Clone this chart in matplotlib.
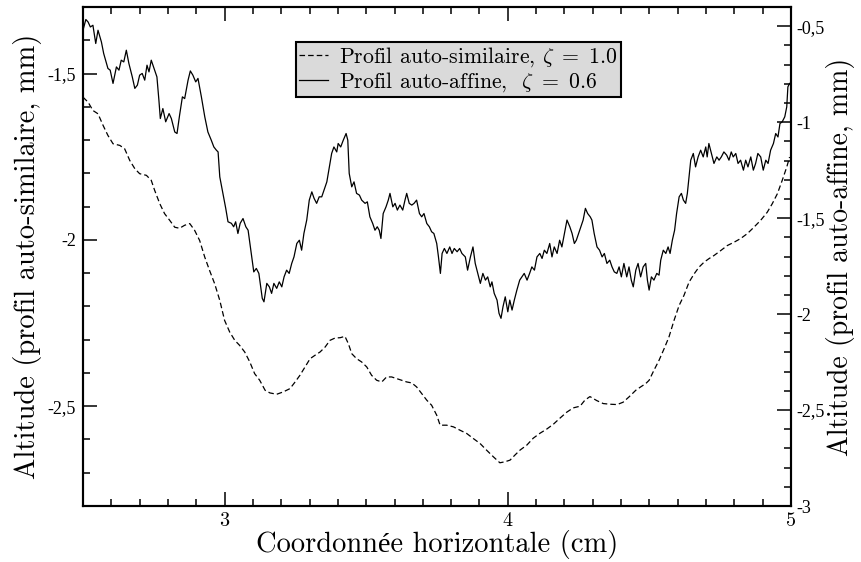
import numpy as np
import matplotlib
matplotlib.use('Agg')
import matplotlib.pyplot as plt
from matplotlib.ticker import MultipleLocator, FuncFormatter

# auto-affine profile (right axis)
x_aff = [2.500, 2.510, 2.518, 2.526, 2.535, 2.545, 2.553, 2.565, 2.573, 2.588,
         2.596, 2.606, 2.618, 2.627, 2.635, 2.644, 2.653, 2.662, 2.674, 2.683,
         2.692, 2.700, 2.709, 2.718, 2.726, 2.733, 2.741, 2.753, 2.761, 2.768,
         2.773, 2.782, 2.792, 2.804, 2.812, 2.824, 2.832, 2.841, 2.851, 2.859,
         2.871, 2.879, 2.888, 2.898, 2.906, 2.918, 2.930, 2.941, 2.953, 2.962,
         2.971, 2.977, 2.983, 2.992, 3.004, 3.012, 3.024, 3.032, 3.039, 3.047,
         3.055, 3.065, 3.075, 3.083, 3.091, 3.103, 3.112, 3.121, 3.133, 3.139,
         3.149, 3.158, 3.166, 3.174, 3.184, 3.193, 3.202, 3.210, 3.219, 3.228,
         3.237, 3.245, 3.255, 3.264, 3.272, 3.280, 3.290, 3.299, 3.308, 3.316,
         3.325, 3.334, 3.343, 3.351, 3.361, 3.370, 3.378, 3.386, 3.396, 3.401,
         3.410, 3.419, 3.429, 3.435, 3.440, 3.449, 3.457, 3.466, 3.476, 3.484,
         3.496, 3.504, 3.513, 3.523, 3.531, 3.539, 3.546, 3.552, 3.560, 3.570,
         3.578, 3.584, 3.594, 3.602, 3.610, 3.619, 3.629, 3.637, 3.643, 3.652,
         3.661, 3.669, 3.678, 3.688, 3.696, 3.704, 3.714, 3.723, 3.731, 3.739,
         3.749, 3.755, 3.762, 3.768, 3.776, 3.785, 3.795, 3.803, 3.811, 3.821,
         3.830, 3.838, 3.850, 3.858, 3.868, 3.877, 3.885, 3.894, 3.903, 3.912,
         3.921, 3.929, 3.938, 3.944, 3.952, 3.962, 3.969, 3.976, 3.983, 3.991,
         4.000, 4.007, 4.015, 4.023, 4.032, 4.042, 4.050, 4.058, 4.068, 4.077,
         4.085, 4.094, 4.103, 4.113, 4.121, 4.129, 4.138, 4.148, 4.156, 4.164,
         4.174, 4.183, 4.191, 4.200, 4.209, 4.219, 4.227, 4.235, 4.242, 4.250,
         4.258, 4.266, 4.274, 4.282, 4.291, 4.297, 4.305, 4.315, 4.324, 4.333,
         4.341, 4.350, 4.360, 4.368, 4.376, 4.385, 4.393, 4.401, 4.410, 4.420,
         4.428, 4.436, 4.443, 4.452, 4.460, 4.469, 4.478, 4.487, 4.493, 4.499,
         4.507, 4.516, 4.526, 4.534, 4.540, 4.549, 4.558, 4.566, 4.573, 4.581,
         4.589, 4.596, 4.605, 4.613, 4.620, 4.628, 4.634, 4.640, 4.646, 4.655,
         4.663, 4.672, 4.681, 4.690, 4.699, 4.704, 4.710, 4.719, 4.728, 4.738,
         4.746, 4.754, 4.763, 4.773, 4.781, 4.789, 4.796, 4.805, 4.813, 4.822,
         4.832, 4.840, 4.848, 4.858, 4.867, 4.875, 4.883, 4.893, 4.902, 4.911,
         4.919, 4.928, 4.938, 4.946, 4.954, 4.961, 4.969, 4.978, 4.985, 4.989,
         4.995]
y_aff = [-0.521, -0.465, -0.478, -0.504, -0.495, -0.590, -0.521, -0.582, -0.642, -0.720,
         -0.729, -0.798, -0.712, -0.729, -0.677, -0.686, -0.625, -0.694, -0.764, -0.824,
         -0.807, -0.755, -0.746, -0.781, -0.703, -0.738, -0.677, -0.729, -0.764, -0.885,
         -0.981, -0.929, -0.998, -0.955, -0.981, -1.051, -1.059, -0.964, -0.868, -0.877,
         -0.781, -0.733, -0.755, -0.790, -0.772, -0.868, -0.972, -1.051, -1.094, -1.129,
         -1.146, -1.155, -1.285, -1.354, -1.449, -1.519, -1.527, -1.545, -1.519, -1.580,
         -1.527, -1.502, -1.545, -1.563, -1.649, -1.780, -1.762, -1.788, -1.918, -1.936,
         -1.840, -1.858, -1.892, -1.840, -1.866, -1.832, -1.858, -1.806, -1.771, -1.788,
         -1.736, -1.702, -1.632, -1.615, -1.667, -1.580, -1.510, -1.406, -1.363, -1.397,
         -1.423, -1.389, -1.389, -1.354, -1.311, -1.233, -1.163, -1.129, -1.155, -1.111,
         -1.129, -1.094, -1.059, -1.094, -1.267, -1.337, -1.311, -1.371, -1.380, -1.406,
         -1.423, -1.415, -1.493, -1.528, -1.563, -1.545, -1.563, -1.606, -1.476, -1.441,
         -1.406, -1.371, -1.441, -1.423, -1.458, -1.432, -1.458, -1.406, -1.371, -1.423,
         -1.432, -1.423, -1.406, -1.476, -1.493, -1.476, -1.528, -1.545, -1.571, -1.580,
         -1.632, -1.700, -1.788, -1.684, -1.658, -1.684, -1.650, -1.684, -1.658, -1.675,
         -1.658, -1.684, -1.702, -1.771, -1.702, -1.650, -1.736, -1.788, -1.840, -1.788,
         -1.823, -1.806, -1.858, -1.832, -1.892, -1.927, -1.996, -2.022, -1.962, -1.910,
         -1.988, -1.927, -1.979, -1.927, -1.875, -1.823, -1.806, -1.788, -1.823, -1.788,
         -1.754, -1.771, -1.702, -1.684, -1.710, -1.667, -1.684, -1.632, -1.702, -1.650,
         -1.684, -1.615, -1.650, -1.580, -1.510, -1.545, -1.580, -1.632, -1.615, -1.580,
         -1.545, -1.510, -1.449, -1.476, -1.493, -1.510, -1.580, -1.650, -1.667, -1.702,
         -1.684, -1.736, -1.719, -1.754, -1.780, -1.788, -1.754, -1.806, -1.736, -1.806,
         -1.754, -1.823, -1.858, -1.771, -1.736, -1.806, -1.754, -1.736, -1.823, -1.875,
         -1.806, -1.823, -1.788, -1.797, -1.719, -1.667, -1.684, -1.650, -1.684, -1.615,
         -1.563, -1.476, -1.389, -1.371, -1.406, -1.423, -1.371, -1.285, -1.198, -1.163,
         -1.233, -1.181, -1.146, -1.181, -1.129, -1.181, -1.111, -1.163, -1.215, -1.181,
         -1.198, -1.181, -1.155, -1.172, -1.198, -1.155, -1.181, -1.163, -1.215, -1.198,
         -1.250, -1.198, -1.233, -1.181, -1.250, -1.215, -1.163, -1.181, -1.250, -1.198,
         -1.215, -1.146, -1.111, -1.059, -1.077, -1.007, -0.998, -0.972, -0.920, -0.816,
         -0.798]

# auto-similar profile (left axis)
x_sim = [2.500, 2.518, 2.535, 2.553, 2.571, 2.588, 2.606, 2.630, 2.647, 2.665,
         2.683, 2.700, 2.724, 2.741, 2.753, 2.771, 2.788, 2.806, 2.824, 2.841,
         2.859, 2.877, 2.894, 2.912, 2.930, 2.947, 2.965, 2.983, 3.000, 3.018,
         3.036, 3.053, 3.071, 3.089, 3.106, 3.124, 3.143, 3.160, 3.184, 3.207,
         3.231, 3.249, 3.266, 3.284, 3.302, 3.319, 3.337, 3.355, 3.372, 3.390,
         3.408, 3.425, 3.437, 3.449, 3.466, 3.484, 3.502, 3.519, 3.537, 3.555,
         3.572, 3.590, 3.608, 3.625, 3.643, 3.661, 3.678, 3.696, 3.714, 3.731,
         3.749, 3.761, 3.784, 3.808, 3.831, 3.855, 3.878, 3.902, 3.925, 3.949,
         3.972, 3.990, 4.008, 4.025, 4.043, 4.067, 4.090, 4.114, 4.137, 4.161,
         4.184, 4.208, 4.231, 4.255, 4.272, 4.290, 4.314, 4.337, 4.361, 4.386,
         4.407, 4.428, 4.452, 4.469, 4.487, 4.499, 4.516, 4.534, 4.552, 4.569,
         4.587, 4.605, 4.622, 4.640, 4.658, 4.675, 4.693, 4.711, 4.728, 4.752,
         4.775, 4.799, 4.822, 4.846, 4.869, 4.893, 4.916, 4.934, 4.952, 4.969,
         4.985, 4.995]
y_sim = [-1.571, -1.586, -1.611, -1.621, -1.656, -1.686, -1.711, -1.716, -1.726, -1.761,
         -1.786, -1.801, -1.806, -1.821, -1.851, -1.891, -1.921, -1.941, -1.962, -1.965,
         -1.956, -1.951, -1.971, -2.002, -2.052, -2.092, -2.132, -2.182, -2.242, -2.277,
         -2.302, -2.317, -2.337, -2.367, -2.402, -2.422, -2.452, -2.460, -2.464, -2.457,
         -2.447, -2.427, -2.407, -2.382, -2.357, -2.347, -2.337, -2.322, -2.302, -2.295,
         -2.294, -2.290, -2.312, -2.342, -2.357, -2.367, -2.382, -2.407, -2.422, -2.427,
         -2.412, -2.412, -2.417, -2.422, -2.427, -2.430, -2.442, -2.462, -2.482, -2.497,
         -2.527, -2.557, -2.557, -2.562, -2.572, -2.582, -2.597, -2.612, -2.632, -2.652,
         -2.670, -2.667, -2.662, -2.647, -2.632, -2.617, -2.596, -2.581, -2.569, -2.554,
         -2.536, -2.518, -2.505, -2.500, -2.482, -2.471, -2.483, -2.492, -2.494, -2.495,
         -2.488, -2.472, -2.452, -2.442, -2.432, -2.422, -2.392, -2.362, -2.327, -2.292,
         -2.242, -2.197, -2.167, -2.127, -2.102, -2.082, -2.067, -2.056, -2.047, -2.032,
         -2.017, -2.007, -1.996, -1.981, -1.962, -1.941, -1.917, -1.891, -1.861, -1.821,
         -1.781, -1.751]

legend_labels = [r'Profil auto-similaire, $\zeta\ =\ 1.0$',
                 r'Profil auto-affine,  $\zeta\ =\ 0.6$']

plt.rcParams['mathtext.fontset'] = 'cm'
plt.rcParams['lines.scale_dashes'] = False

cm_font = ['cmr10', 'Liberation Serif']


def comma_fmt(v, pos):
    return f"{v:g}".replace('.', ',')


fig = plt.figure(figsize=(8.61, 5.62), dpi=100)
ax = fig.add_axes([0.0964, 0.0996, 0.8223, 0.8879])
ax2 = ax.twinx()

l1, = ax.plot(x_sim, y_sim, color='black', linewidth=0.9, dashes=(4.0, 2.2))
l2, = ax2.plot(x_aff, y_aff, color='black', linewidth=0.9)

ax.set_xlim(2.5, 5)
ax.set_ylim(-2.8, -1.3)
ax2.set_ylim(-3, -0.4)

ax.xaxis.set_major_locator(MultipleLocator(1))
ax.xaxis.set_minor_locator(MultipleLocator(0.1))
ax.yaxis.set_major_locator(MultipleLocator(0.5))
ax.yaxis.set_minor_locator(MultipleLocator(0.1))
ax2.yaxis.set_major_locator(MultipleLocator(0.5))
ax2.yaxis.set_minor_locator(MultipleLocator(0.1))
ax.yaxis.set_major_formatter(FuncFormatter(comma_fmt))
ax2.yaxis.set_major_formatter(FuncFormatter(comma_fmt))
ax.xaxis.set_major_formatter(FuncFormatter(comma_fmt))

ax.tick_params(axis='x', which='both', direction='in', top=True, bottom=True)
ax.tick_params(axis='y', which='both', direction='in', left=True, right=False)
ax2.tick_params(axis='y', which='both', direction='in')
for a in (ax, ax2):
    a.tick_params(which='major', length=10, width=1.1)
    a.tick_params(which='minor', length=5, width=1.1)
ax.tick_params(axis='x', pad=4, labelsize=14.5, labelfontfamily='cmr10')
ax.tick_params(axis='y', pad=5, labelsize=13, labelfontfamily='Liberation Serif')
ax2.tick_params(axis='y', pad=4, labelsize=13, labelfontfamily='Liberation Serif')

for a in (ax, ax2):
    for s in a.spines.values():
        s.set_linewidth(1.5)

ax.set_xlabel('Coordonnée horizontale (cm)', fontsize=20.5, family=cm_font, labelpad=0)
ax.set_ylabel('Altitude (profil auto-similaire, mm)', fontsize=20.5, family=cm_font, labelpad=4)
ax2.set_ylabel('Altitude (profil auto-affine, mm)', fontsize=20, family=cm_font, labelpad=1)

leg = ax2.legend([l1, l2], legend_labels,
                 loc='upper left', bbox_to_anchor=(0.301, 0.930),
                 borderaxespad=0, fancybox=False, framealpha=1,
                 facecolor='#dadada', edgecolor='black',
                 prop={'family': cm_font, 'size': 15.7},
                 handlelength=1.3, handletextpad=0.5,
                 borderpad=0.15, labelspacing=0.05)
leg.get_frame().set_linewidth(1.5)

fig.savefig('out.png', dpi=100)
